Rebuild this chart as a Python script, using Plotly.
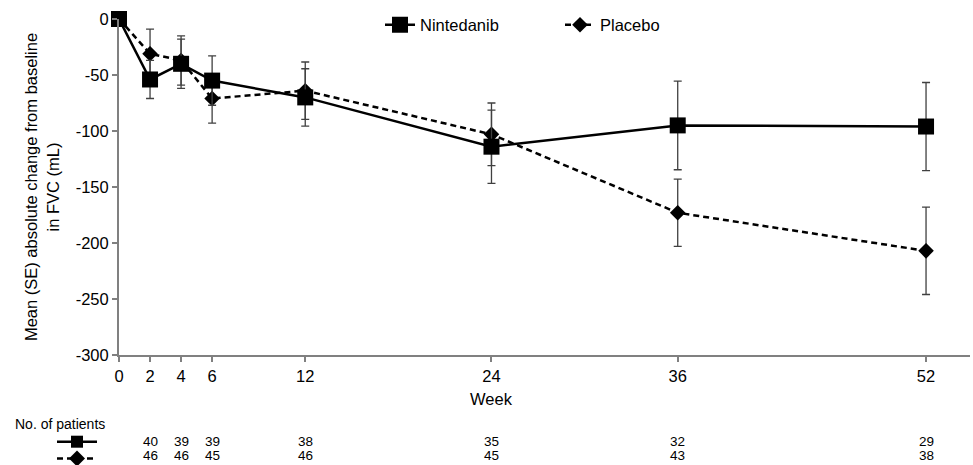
import plotly.graph_objects as go

weeks = [0, 2, 4, 6, 12, 24, 36, 52]
tick_weeks = [0, 2, 4, 6, 12, 24, 36, 52]
nint_mean = [0, -54, -40, -55, -70, -114, -95, -96]
nint_se = [0, 17, 22, 22, 25.6, 32.7, 39.6, 39.3]
plac_mean = [0, -31, -37, -71, -64, -103, -173, -207]
plac_se = [0, 22, 22, 22, 25.6, 28, 30, 39]
nint_n = [40, 39, 39, 38, 35, 32, 29]
plac_n = [46, 46, 45, 46, 45, 43, 38]
n_weeks = [2, 4, 6, 12, 24, 36, 52]
y_ticks = [0, -50, -100, -150, -200, -250, -300]
y_ticktext = ["0", "-50", "-100", "-150", "-200", "-250", "-300"]

W, H = 973, 465
L, R, T, B = 119, 3, 19, 110
PW, PH = W - L - R, H - T - B

def px(x):
    return (x - L) / PW

def py(y):
    return (H - B - y) / PH

FONT = "Liberation Sans, Arial, sans-serif"
FS = 16.5

fig = go.Figure()
fig.add_trace(go.Scatter(
    x=weeks, y=plac_mean, name="Placebo", mode="lines+markers",
    line=dict(color="black", width=2.5, dash="6px,4px"),
    marker=dict(symbol="diamond", size=12, color="black"),
    error_y=dict(type="data", array=plac_se, color="#404040", thickness=1.3, width=4),
    cliponaxis=False, legend="legend2",
))
fig.add_trace(go.Scatter(
    x=weeks, y=nint_mean, name="Nintedanib", mode="lines+markers",
    line=dict(color="black", width=2.5),
    marker=dict(symbol="square", size=16, color="black"),
    error_y=dict(type="data", array=nint_se, color="#404040", thickness=1.3, width=4),
    cliponaxis=False, legend="legend",
))

fig.update_xaxes(
    range=[0, (W - R - L) / 15.52], tickvals=tick_weeks, ticktext=[str(w) for w in tick_weeks],
    showline=True, linecolor="#808080", linewidth=2, ticks="outside", ticklen=5,
    tickcolor="#808080", tickwidth=1.5, showgrid=False, zeroline=False,
    tickfont=dict(size=FS),
)
fig.update_yaxes(
    range=[-300, 0], tickvals=y_ticks, ticktext=y_ticktext,
    showline=True, linecolor="#808080", linewidth=2, ticks="outside", ticklen=5,
    tickcolor="#808080", tickwidth=1.5, showgrid=False, zeroline=False,
    tickfont=dict(size=FS),
    title=dict(text="Mean (SE) absolute change from baseline<br>in FVC (mL)",
               font=dict(size=FS), standoff=12),
)

annotations = [
    dict(text="Week", x=24, xref="x", y=py(399), yref="paper", showarrow=False,
         font=dict(size=FS), xanchor="center", yanchor="middle"),
    dict(text="No. of patients", x=px(13), xref="paper", y=py(424), yref="paper",
         showarrow=False, font=dict(size=14), xanchor="left", yanchor="middle"),
]
for w, n in zip(n_weeks, nint_n):
    annotations.append(dict(text=str(n), x=w, xref="x", y=py(441.7), yref="paper",
                            showarrow=False, font=dict(size=13.5), xanchor="center", yanchor="middle"))
for w, n in zip(n_weeks, plac_n):
    annotations.append(dict(text=str(n), x=w, xref="x", y=py(465), yref="paper",
                            showarrow=False, font=dict(size=13.5), xanchor="center", yanchor="bottom"))

shapes = []
cy1, cy2, cx = 441.7, 458.5, 77
shapes.append(dict(type="line", xref="paper", yref="paper", x0=px(57), x1=px(97),
                   y0=py(cy1), y1=py(cy1), line=dict(color="black", width=2.5)))
shapes.append(dict(type="rect", xref="paper", yref="paper", x0=px(cx - 6), x1=px(cx + 6),
                   y0=py(cy1 - 6), y1=py(cy1 + 6), fillcolor="black", line=dict(width=0)))
shapes.append(dict(type="line", xref="paper", yref="paper", x0=px(57), x1=px(97),
                   y0=py(cy2), y1=py(cy2), line=dict(color="black", width=2.5, dash="6px,4px")))
d = 8
shapes.append(dict(type="path", xref="paper", yref="paper",
                   path=f"M {px(cx-d)} {py(cy2)} L {px(cx)} {py(cy2-d)} L {px(cx+d)} {py(cy2)} L {px(cx)} {py(cy2+d)} Z",
                   fillcolor="black", line=dict(width=0)))

leg_common = dict(orientation="h", xanchor="left", y=py(25), yanchor="middle",
                  font=dict(size=FS), bgcolor="rgba(0,0,0,0)", itemwidth=30)

fig.update_layout(
    width=W, height=H, margin=dict(l=L, r=R, t=T, b=B),
    plot_bgcolor="white", paper_bgcolor="white",
    font=dict(family=FONT, size=FS, color="black"),
    showlegend=True,
    legend=dict(x=px(380), **leg_common),
    legend2=dict(x=px(560), **leg_common),
    annotations=annotations, shapes=shapes,
)

fig.write_html("out.html", config={"displayModeBar": False},
               post_script="document.body.style.margin='0';document.body.style.overflow='hidden';")
